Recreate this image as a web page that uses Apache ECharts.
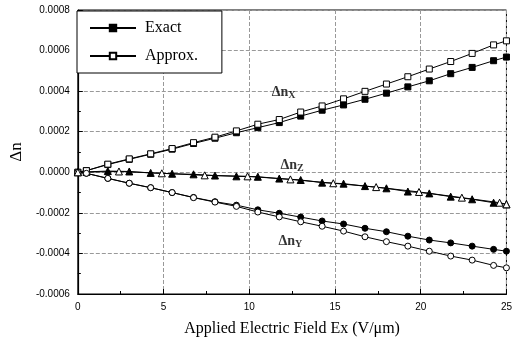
<!DOCTYPE html>
<html>
<head>
<meta charset="utf-8">
<script src="https://cdn.jsdelivr.net/npm/echarts@6/dist/echarts.min.js"></script>
<style>
  html, body { margin: 0; padding: 0; background: #fff; }
  #chart { width: 515px; height: 343px; }
</style>
</head>
<body>
<div id="chart"></div>
<script>
// field values (V/um) where the curves were sampled
const xMain = [0, 0.5, 1.75, 3, 4.25, 5.5, 6.75, 8, 9.25, 10.5, 11.75, 13, 14.25, 15.5, 16.75, 18, 19.25, 20.5, 21.75, 23, 24.25, 25];

const nxExact = [0, 0.000008, 0.000038, 0.000064, 0.000089, 0.000114, 0.000142, 0.000168, 0.000195, 0.00022, 0.000245, 0.000277, 0.000306, 0.000332, 0.00036, 0.00039, 0.000421, 0.000451, 0.000486, 0.000517, 0.00055, 0.000568];
const nxApprox = [0, 0.000008, 0.00004, 0.000066, 0.000091, 0.000117, 0.000146, 0.000173, 0.000204, 0.000237, 0.00026, 0.000297, 0.000327, 0.000362, 0.000399, 0.000435, 0.000471, 0.000509, 0.000546, 0.000586, 0.000628, 0.000648];

const nyExact = [0, -0.000005, -0.00003, -0.000054, -0.000076, -0.0001, -0.000124, -0.000145, -0.000162, -0.000185, -0.000202, -0.000221, -0.00024, -0.000255, -0.000276, -0.000293, -0.000315, -0.000334, -0.000348, -0.000364, -0.00038, -0.000389];
const nyApprox = [0, -0.000005, -0.00003, -0.000054, -0.000076, -0.0001, -0.000125, -0.000147, -0.000168, -0.000196, -0.00022, -0.000244, -0.000266, -0.00029, -0.000318, -0.000342, -0.000364, -0.000389, -0.000413, -0.000433, -0.000459, -0.000471];

const nzExact = [0, 0.000002, 0.000006, 0.000004, -0.000003, -0.000007, -0.00001, -0.000016, -0.00002, -0.000022, -0.000031, -0.000038, -0.000051, -0.000056, -0.000068, -0.000079, -0.000095, -0.000104, -0.00012, -0.000133, -0.00015, -0.000158];
const xZApprox = [0, 2.4, 4.9, 7.4, 9.9, 12.4, 14.9, 17.4, 19.9, 22.4, 24.6, 25];
const nzApprox = [0, 0.000004, -0.000005, -0.000015, -0.00002, -0.000035, -0.000054, -0.000073, -0.000097, -0.000125, -0.00015, -0.000158];

// curve labels: [x, y, name, subscript]
const curveLabels = [
  [12.0, 0.000395, "Δn", "X"],
  [12.5, 0.000035, "Δn", "Z"],
  [12.4, -0.00034, "Δn", "Y"],
];

const yTicks = [-0.0006, -0.0004, -0.0002, 0, 0.0002, 0.0004, 0.0006, 0.0008];

function pairs(xs, ys) {
  return xs.map((x, i) => [x, ys[i]]);
}

const filled = { color: "#000", borderColor: "#000", borderWidth: 1 };
const open = { color: "#fff", borderColor: "#000", borderWidth: 1 };
const line = { color: "#000", width: 1 };

function curve(name, data, symbol, style, size) {
  return {
    name: name,
    type: "line",
    data: data,
    symbol: symbol,
    symbolSize: size,
    showAllSymbol: true,
    itemStyle: style,
    lineStyle: line,
    animation: false,
    z: style === open ? 3 : 2,
  };
}

var chart = echarts.init(document.getElementById("chart"));

const serif = "Liberation Serif";
const sans = "Liberation Sans";
const gridLine = { show: true, lineStyle: { color: "#999", width: 1, type: "dashed" } };

var option = {
  backgroundColor: "#fff",
  grid: { left: 76.5, right: 4, top: 10, bottom: 49, show: true, borderColor: "#000", borderWidth: 1, backgroundColor: "transparent" },
  legend: {
    data: ["Exact", "Approx."],
    orient: "vertical",
    left: 77,
    top: 11,
    itemWidth: 46,
    itemHeight: 8,
    itemGap: 12,
    padding: [9, 24, 9, 12],
    borderColor: "#000",
    borderWidth: 1,
    backgroundColor: "#fff",
    textStyle: { fontFamily: serif, fontSize: 16, color: "#000", padding: [0, 0, 0, 4] },
  },
  xAxis: {
    type: "value",
    min: 0,
    max: 25,
    interval: 5,
    name: "Applied Electric Field Ex (V/μm)",
    nameLocation: "middle",
    nameGap: 27,
    nameTextStyle: { fontFamily: serif, fontSize: 16, color: "#000" },
    axisLine: { onZero: false, lineStyle: { color: "#000", width: 1.2 } },
    axisTick: { inside: true, length: 5, lineStyle: { color: "#000" } },
    minorTick: { show: true, splitNumber: 2, length: 3, lineStyle: { color: "#000" } },
    axisLabel: { fontFamily: sans, fontSize: 10, color: "#000", margin: 8 },
    splitLine: gridLine,
  },
  yAxis: {
    type: "value",
    min: -0.0006,
    max: 0.0008,
    interval: 0.0002,
    name: "Δn",
    nameLocation: "middle",
    nameGap: 50,
    nameTextStyle: { fontFamily: serif, fontSize: 17, color: "#000" },
    axisLine: { show: true, onZero: false, lineStyle: { color: "#000", width: 1.2 } },
    axisTick: { show: true, inside: true, length: 5, lineStyle: { color: "#000" } },
    minorTick: { show: true, splitNumber: 2, length: 3, lineStyle: { color: "#000" } },
    axisLabel: {
      fontFamily: sans,
      fontSize: 10,
      color: "#000",
      margin: 8,
      formatter: (v) => yTicks.includes(Number(v.toFixed(4))) ? v.toFixed(4) : "",
    },
    splitLine: gridLine,
  },
  series: [
    curve("Δn_x exact", pairs(xMain, nxExact), "rect", filled, 6),
    curve("Δn_x approx", pairs(xMain, nxApprox), "rect", open, 6),
    curve("Δn_y exact", pairs(xMain, nyExact), "circle", filled, 6),
    curve("Δn_y approx", pairs(xMain, nyApprox), "circle", open, 6),
    curve("Δn_z exact", pairs(xMain, nzExact), "triangle", filled, 7),
    curve("Δn_z approx", pairs(xZApprox, nzApprox), "triangle", open, 7),
    // legend-only entries
    { name: "Exact", type: "line", data: [], symbol: "rect", symbolSize: 6, itemStyle: filled, lineStyle: line },
    { name: "Approx.", type: "line", data: [], symbol: "rect", symbolSize: 6, itemStyle: open, lineStyle: line },
    {
      name: "labels",
      type: "scatter",
      symbolSize: 0,
      silent: true,
      animation: false,
      data: curveLabels.map((d) => ({ value: [d[0], d[1]], main: d[2], sub: d[3] })),
      label: {
        show: true,
        position: "inside",
        formatter: (p) => "{m|" + p.data.main + "}{s|" + p.data.sub + "}",
        rich: {
          m: { fontFamily: serif, fontSize: 14, fontWeight: "bold", color: "#000" },
          s: { fontFamily: serif, fontSize: 10, fontWeight: "bold", color: "#000", padding: [7, 0, 0, 0] },
        },
      },
    },
  ],
};

chart.setOption(option);
</script>
</body>
</html>
